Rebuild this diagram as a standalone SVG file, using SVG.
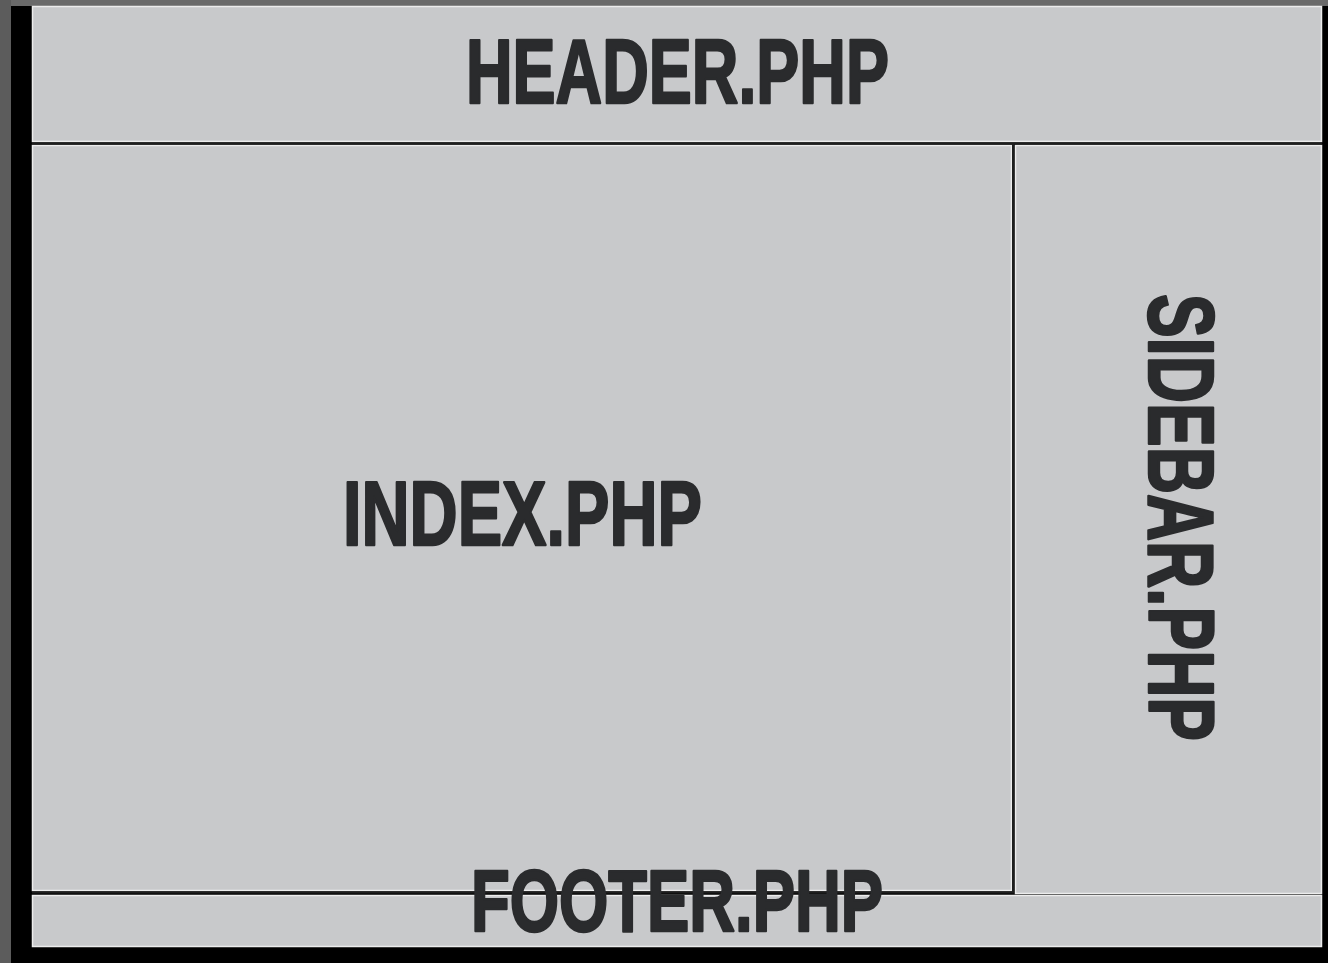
<svg xmlns="http://www.w3.org/2000/svg" width="1328" height="963" viewBox="0 0 1328 963">
<style>
.panel{fill:#c8c9cb;stroke:#ececec;stroke-width:1.5}
.sep{stroke:#1e1e1e;stroke-width:2;fill:none}
.lbl{font-family:"Liberation Sans",Arial,sans-serif;font-weight:bold;fill:#2a2b2d;stroke:#2a2b2d;stroke-width:2.5;stroke-linejoin:round}
</style>
<rect x="0" y="0" width="1328" height="963" fill="#000"/>
<rect x="0" y="0" width="1328" height="6" fill="#6a6a6a"/>
<rect x="0" y="0" width="11" height="963" fill="#5c5c5c"/>
<g id="header">
<rect class="panel" x="32.5" y="6.5" width="1289" height="135"/>
<text class="lbl" x="466" y="103" font-size="90" textLength="423" lengthAdjust="spacingAndGlyphs">HEADER.PHP</text>
</g>
<g id="index">
<rect class="panel" x="32.5" y="145.5" width="979" height="745"/>
<text class="lbl" x="343" y="545" font-size="91" textLength="359" lengthAdjust="spacingAndGlyphs">INDEX.PHP</text>
</g>
<g id="sidebar">
<rect class="panel" x="1015.5" y="145.5" width="306" height="748"/>
<text class="lbl" transform="translate(1149,294) rotate(90)" x="0" y="0" font-size="92" textLength="447" lengthAdjust="spacingAndGlyphs">SIDEBAR.PHP</text>
</g>
<g id="footer">
<rect class="panel" x="32.5" y="895.5" width="1289" height="51"/>
</g>
<g id="connectors">
<line class="sep" x1="32" y1="143.5" x2="1322" y2="143.5"/>
<line class="sep" x1="1013" y1="144" x2="1013" y2="893"/>
<line class="sep" x1="32" y1="892.5" x2="1014" y2="892.5"/>
</g>
<text class="lbl" x="471" y="931" font-size="88" textLength="412" lengthAdjust="spacingAndGlyphs">FOOTER.PHP</text>
</svg>
